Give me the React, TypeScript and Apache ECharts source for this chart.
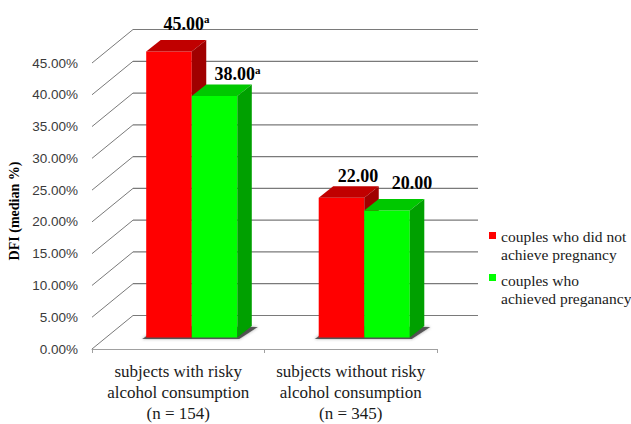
import React, { useEffect, useRef } from "react";
import * as echarts from "echarts";

// ---- data ----
const categories = [
  "subjects with risky\nalcohol consumption\n(n = 154)",
  "subjects without risky\nalcohol consumption\n(n = 345)",
];
const seriesNames = [
  "couples who did not\nachieve pregnancy",
  "couples who\nachieved preganancy",
];
const notAchievedValues = [45.0, 22.0];
const achievedValues = [38.0, 20.0];
const notAchievedMarks = ["a", ""];
const achievedMarks = ["a", ""];
const yTickValues = [0, 5, 10, 15, 20, 25, 30, 35, 40, 45];

// ---- 3D geometry (pixels) ----
const WALL_DX = 41; // depth of the side wall / floor
const WALL_DY = -33.5;
const BAR_DX = 13.5; // bars sit a little behind the front plane
const BAR_DY = -11.5;
const DEPTH_X = 14.5; // depth of each bar
const DEPTH_Y = -11.5;
const BAR_RATIO = 0.264; // bar width as a share of the category band

// label nudges relative to the back-top centre of each bar: [series][category]
const LABEL_NUDGE = [
  [
    [3, -16.5],
    [2, -10.5],
  ],
  [
    [8.5, -10],
    [10.5, -16],
  ],
];

const GRID_COLOR = "#7a7a7a";
const SERIF = "'Liberation Serif', 'Times New Roman', serif";
const SANS = "'Liberation Sans', Arial, sans-serif";

const palettes = [
  { front: "#ff0000", top: "#c00000", side: "#a00000" },
  { front: "#00ff00", top: "#00c800", side: "#00a000" },
];

function barSeries(
  name: string,
  values: number[],
  marks: string[],
  sIdx: number
) {
  const pal = palettes[sIdx];
  return {
    type: "custom",
    name,
    z: 5 + sIdx,
    silent: true,
    data: values.map((v, i) => [i, v]),
    renderItem: (params: any, api: any) => {
      const cat = api.value(0);
      const val = api.value(1);
      const top = api.coord([cat, val]);
      const base = api.coord([cat, 0]);
      const band = api.size([1, 0])[0];
      const w = band * BAR_RATIO;
      const xL = top[0] + (sIdx === 0 ? -w : 0) + BAR_DX;
      const xR = xL + w;
      const yT = top[1] + BAR_DY;
      const yB = base[1] + BAR_DY;
      const nudge = LABEL_NUDGE[sIdx][params.dataIndex];
      const mark = marks[params.dataIndex];
      const label = "{v|" + val.toFixed(2) + "}" + (mark ? "{s|" + mark + "}" : "");
      return {
        type: "group",
        children: [
          {
            type: "rect",
            shape: { x: xL, y: yT, width: w, height: yB - yT },
            style: { fill: pal.front },
          },
          {
            type: "polygon",
            shape: {
              points: [
                [xL, yT],
                [xR, yT],
                [xR + DEPTH_X, yT + DEPTH_Y],
                [xL + DEPTH_X, yT + DEPTH_Y],
              ],
            },
            style: { fill: pal.top },
          },
          {
            type: "polygon",
            shape: {
              points: [
                [xR, yT],
                [xR + DEPTH_X, yT + DEPTH_Y],
                [xR + DEPTH_X, yB + DEPTH_Y],
                [xR, yB],
              ],
            },
            style: { fill: pal.side },
          },
          {
            type: "text",
            x: (xL + xR) / 2 + DEPTH_X + nudge[0],
            y: yT + DEPTH_Y + nudge[1],
            style: {
              text: label,
              align: "center",
              verticalAlign: "middle",
              rich: {
                v: {
                  fontFamily: SERIF,
                  fontSize: 18,
                  fontWeight: "bold",
                  fill: "#000",
                  lineHeight: 20,
                },
                s: {
                  fontFamily: SERIF,
                  fontSize: 11,
                  fontWeight: "bold",
                  fill: "#000",
                  verticalAlign: "top",
                  lineHeight: 20,
                  padding: [0, 0, 6, 0],
                },
              },
            },
          },
        ],
      };
    },
  };
}

export default function App() {
  const ref = useRef<HTMLDivElement>(null);

  useEffect(() => {
    if (!ref.current) return;
    const chart = echarts.init(ref.current, null, { renderer: "svg" });

    const option: any = {
      animation: false,
      backgroundColor: "#ffffff",
      grid: { left: 92, right: 194, top: 63, bottom: 74.5 },
      xAxis: {
        type: "category",
        data: categories,
        axisLine: { lineStyle: { color: "#a0a0a0", width: 1 } },
        axisTick: { show: true, length: 4, lineStyle: { color: "#a0a0a0" } },
        axisLabel: {
          interval: 0,
          margin: 12,
          fontFamily: SERIF,
          fontSize: 17,
          lineHeight: 21,
          color: "#1a1a1a",
        },
      },
      yAxis: {
        type: "value",
        min: 0,
        max: 45,
        interval: 5,
        axisLine: { show: false },
        axisTick: { show: false },
        splitLine: { show: false },
        axisLabel: {
          margin: 14,
          fontFamily: SANS,
          fontSize: 13.5,
          color: "#3a3a3a",
          formatter: (v: number) => v.toFixed(2) + "%",
        },
      },
      graphic: [
        {
          type: "text",
          x: 14,
          y: 211,
          rotation: Math.PI / 2,
          style: {
            text: "DFI (median %)",
            fontFamily: SERIF,
            fontSize: 14,
            fontWeight: "bold",
            fill: "#000",
            align: "center",
            verticalAlign: "middle",
          },
        },
        {
          type: "rect",
          shape: { x: 489, y: 232, width: 7, height: 7 },
          style: { fill: palettes[0].front },
        },
        {
          type: "text",
          x: 501,
          y: 227,
          style: {
            text: seriesNames[0],
            fontFamily: SERIF,
            fontSize: 15.5,
            lineHeight: 18,
            fill: "#1a1a1a",
            verticalAlign: "top",
          },
        },
        {
          type: "rect",
          shape: { x: 489, y: 274, width: 7, height: 7 },
          style: { fill: palettes[1].front },
        },
        {
          type: "text",
          x: 501,
          y: 271,
          style: {
            text: seriesNames[1],
            fontFamily: SERIF,
            fontSize: 15.5,
            lineHeight: 18,
            fill: "#1a1a1a",
            verticalAlign: "top",
          },
        },
      ],
      series: [
        // side wall diagonals and back-wall gridlines
        {
          type: "custom",
          silent: true,
          z: 1,
          data: yTickValues.map((v) => [0, v]),
          renderItem: (params: any, api: any) => {
            const cs = params.coordSys;
            const y = api.coord([0, api.value(1)])[1];
            const x0 = cs.x;
            const x1 = cs.x + cs.width;
            return {
              type: "group",
              children: [
                {
                  type: "line",
                  shape: { x1: x0, y1: y, x2: x0 + WALL_DX, y2: y + WALL_DY },
                  style: { stroke: GRID_COLOR, lineWidth: 1 },
                },
                {
                  type: "line",
                  shape: {
                    x1: x0 + WALL_DX,
                    y1: y + WALL_DY,
                    x2: x1 + WALL_DX,
                    y2: y + WALL_DY,
                  },
                  style: { stroke: GRID_COLOR, lineWidth: 1.2 },
                },
              ],
            };
          },
        },
        // soft floor shadow under each bar pair
        {
          type: "custom",
          silent: true,
          z: 3,
          data: categories.map((_, i) => [i, 0]),
          renderItem: (params: any, api: any) => {
            const base = api.coord([api.value(0), 0]);
            const band = api.size([1, 0])[0];
            const w = band * BAR_RATIO;
            const left = base[0] - w + BAR_DX;
            const right = base[0] + w + BAR_DX;
            const yB = base[1] + BAR_DY;
            return {
              type: "polygon",
              shape: {
                points: [
                  [left - 4, yB + 1.5],
                  [right + 2, yB + 1.5],
                  [right + DEPTH_X + 6, yB + DEPTH_Y + 1],
                  [left + DEPTH_X, yB + DEPTH_Y],
                ],
              },
              style: {
                fill: "rgba(50,50,50,0.75)",
                shadowBlur: 3,
                shadowColor: "rgba(50,50,50,0.6)",
              },
            };
          },
        },
        barSeries(seriesNames[0], notAchievedValues, notAchievedMarks, 0),
        barSeries(seriesNames[1], achievedValues, achievedMarks, 1),
      ],
    };

    chart.setOption(option);
    return () => chart.dispose();
  }, []);

  return (
    <div
      ref={ref}
      style={{ position: "fixed", left: 0, top: 0, width: 631, height: 424 }}
    />
  );
}
